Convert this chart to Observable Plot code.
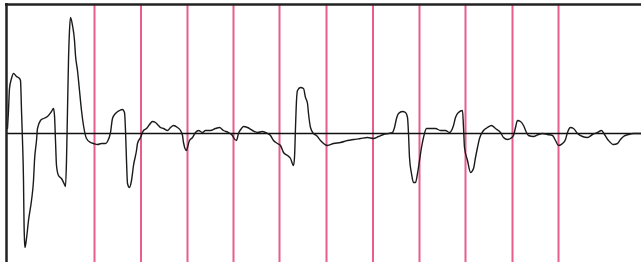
<!DOCTYPE html>
<html>
<head>
<meta charset="utf-8">
<script src="https://cdn.jsdelivr.net/npm/d3@7"></script>
<script src="https://cdn.jsdelivr.net/npm/@observablehq/plot@0.6"></script>
<style>
  html, body { margin: 0; padding: 0; background: #ffffff; }
  #chart svg { display: block; }
</style>
</head>
<body>
<div id="chart"></div>
<script>
// Sample times (arbitrary time units) and trace amplitude (arbitrary units)
const time = [
  7,8,9,11,13,16,19,20,21,22,
  23,23.5,24,24.5,26,28,31,33,34,36,
  37,40,43,47,51,53,54,55,56,58,
  61,64,65,66,67,68,69,70,72,74,
  75,77,79,81,83,86,90,93,97,101,
  105,107,110,112,115,119,122,124,125,126,
  127,129,131,133,136,137,140,143,146,149,
  152,155,158,160,163,167,170,173,177,180,
  182,183,186,187,189,192,195,198,202,205,
  210,215,219,223,228,232,233,236,238,241,
  243,247,252,257,262,267,270,273,277,280,
  283,287,290,293,294,295,296,297,300,303,
  305,307,308,310,313,316,320,327,333,340,
  347,353,360,367,373,378,383,388,392,394,
  396,398,402,405,407,408,409,411,413,415,
  417,419,421,423,426,430,435,440,445,449,
  453,455,458,462,463,464,467,470,473,475,
  477,479,483,487,491,495,500,503,507,510,
  513,515,517,520,523,526,528,533,538,542,
  547,552,555,558,562,565,567,570,573,577,
  582,587,592,597,601,604,608,613,617,620,
  623,628,633,638,641
];
const amplitude = [
  5,23,45,55,60,57,55,53,23,-7,
  -47,-87,-107,-114,-105,-87,-67,-47,-27,-7,
  5,13,15,17,22,25,18,-7,-32,-42,
  -45,-51,-53,-27,23,73,103,116,108,93,
  78,63,43,23,8,-5,-9,-10,-11,-10,
  -10,-8,1,15,20,23,24,21,3,-27,
  -50,-54,-47,-32,-17,-10,-4,3,5,9,
  12,11,8,6,5,3,6,8,6,3,
  -2,-9,-17,-14,-7,-4,1,3,1,3,
  3,5,6,3,1,-2,-4,-7,0,5,
  7,6,3,1,2,0,-2,-7,-10,-12,
  -19,-22,-25,-32,-24,6,33,43,46,45,
  36,30,20,6,0,-2,-7,-12,-10,-9,
  -7,-6,-5,-4,-5,-3,-1,0,1,6,
  15,20,22,21,16,0,-24,-40,-49,-49,
  -40,-27,-14,-4,5,5,5,3,3,1,
  8,16,21,23,6,-14,-27,-39,-35,-24,
  -14,-5,3,6,8,5,1,-4,-6,-5,
  -2,6,13,12,8,1,-2,-3,-1,0,
  -1,-2,-7,-12,-10,-6,1,6,5,0,
  -3,-4,-1,1,3,-1,-7,-11,-10,-6,
  -3,-1,0,0,0
];
// Vertical time markers (pink grid)
const markers = [94,140.5,187,233,279,326,372.5,419,465,512,558];
// Frame limits
const frameLeft = 6;
const frameTop = 129;
const timeEnd = 641;
const ampMin = -129;

const trace = time.map((t, i) => ({t, a: amplitude[i]}));

const chart = Plot.plot({
  width: 641,
  height: 262,
  margin: 0,
  x: {domain: [0, 641], axis: null},
  y: {domain: [-129, 133], axis: null},
  marks: [
    Plot.ruleX(markers, {y1: frameTop, y2: ampMin, stroke: "#e95d8e", strokeWidth: 2}),
    Plot.ruleY([0], {x1: frameLeft, x2: timeEnd, stroke: "#111", strokeWidth: 1.6}),
    Plot.line(trace, {x: "t", y: "a", curve: "monotone-x", stroke: "#1a1a1a", strokeWidth: 1.4, strokeLinejoin: "round"}),
    Plot.ruleX([frameLeft], {y1: frameTop + 1, y2: ampMin, stroke: "#222", strokeWidth: 2.5}),
    Plot.ruleY([frameTop], {x1: frameLeft - 1, x2: timeEnd, stroke: "#222", strokeWidth: 2.5})
  ]
});
document.getElementById("chart").appendChild(chart);
</script>
</body>
</html>
